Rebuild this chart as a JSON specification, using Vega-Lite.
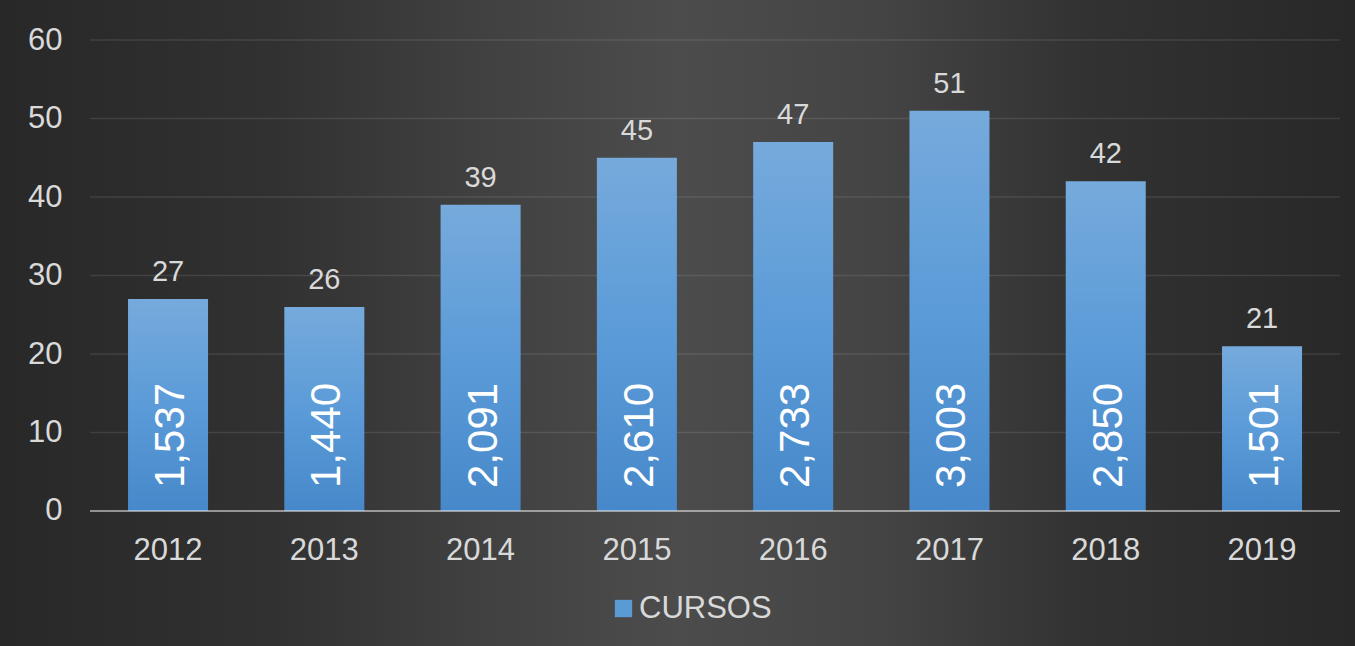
{
  "$schema": "https://vega.github.io/schema/vega-lite/v6.json",
  "width": 1355,
  "height": 646,
  "padding": 0,
  "autosize": {"type": "none"},
  "background": "#2a2a2a",
  "config": {
    "font": "Liberation Sans",
    "view": {
      "stroke": null,
      "fill": {
        "gradient": "linear", "x1": 0, "y1": 0, "x2": 1, "y2": 0,
        "stops": [
          {"offset": 0, "color": "#282828"},
          {"offset": 0.2, "color": "#313131"},
          {"offset": 0.35, "color": "#404040"},
          {"offset": 0.5, "color": "#4c4c4c"},
          {"offset": 0.65, "color": "#444444"},
          {"offset": 0.8, "color": "#323232"},
          {"offset": 1, "color": "#282828"}
        ]
      }
    }
  },
  "datasets": {
    "main": [
      {"year": "2012", "cursos": 27, "participantes": 1537},
      {"year": "2013", "cursos": 26, "participantes": 1440},
      {"year": "2014", "cursos": 39, "participantes": 2091},
      {"year": "2015", "cursos": 45, "participantes": 2610},
      {"year": "2016", "cursos": 47, "participantes": 2733},
      {"year": "2017", "cursos": 51, "participantes": 3003},
      {"year": "2018", "cursos": 42, "participantes": 2850},
      {"year": "2019", "cursos": 21, "participantes": 1501}
    ],
    "grid": [{"v": 0}, {"v": 10}, {"v": 20}, {"v": 30}, {"v": 40}, {"v": 50}, {"v": 60}]
  },
  "layer": [
    {
      "data": {"name": "grid"},
      "mark": {"type": "rule", "stroke": "#ffffff", "strokeOpacity": 0.1, "strokeWidth": 1.5},
      "encoding": {
        "y": {"field": "v", "type": "quantitative", "scale": {"domain": [-17.2, 65.1], "nice": false, "zero": false}},
        "x": {"datum": 0, "type": "quantitative", "scale": {"domain": [-0.072, 1.012], "nice": false, "zero": false}, "axis": null},
        "x2": {"datum": 1}
      }
    },
    {
      "data": {"name": "main"},
      "mark": {"type": "bar"},
      "encoding": {
        "x": {
          "field": "year", "type": "nominal", "sort": null,
          "scale": {"type": "band", "paddingInner": 0.488, "paddingOuter": 0.579, "align": 0.7074, "round": false},
          "axis": {
            "orient": "bottom", "offset": -135, "title": null, "domain": false, "ticks": false, "grid": false,
            "labelAngle": 0, "labelFontSize": 31, "labelColor": "#d9d9d9", "labelPadding": 24, "labelFont": "Liberation Sans"
          }
        },
        "y": {
          "field": "cursos", "type": "quantitative",
          "scale": {"domain": [-17.2, 65.1], "nice": false, "zero": false},
          "axis": {
            "orient": "left", "offset": -90, "title": null, "domain": false, "ticks": false, "grid": false,
            "values": [0, 10, 20, 30, 40, 50, 60], "labelFontSize": 31, "labelColor": "#d9d9d9", "labelPadding": 28, "labelFont": "Liberation Sans"
          }
        },
        "y2": {"datum": 0},
        "fill": {
          "datum": "CURSOS", "type": "nominal",
          "scale": {"range": ["#5b9bd5"]},
          "condition": {
            "test": "true",
            "value": {
              "gradient": "linear", "x1": 0, "y1": 0, "x2": 0, "y2": 1,
              "stops": [
                {"offset": 0, "color": "#76aadc"},
                {"offset": 0.5, "color": "#5b9bd8"},
                {"offset": 1, "color": "#4788ca"}
              ]
            }
          },
          "legend": {
            "orient": "none", "legendX": 608, "legendY": 593, "title": null, "padding": 0,
            "symbolType": "square", "symbolSize": 300, "symbolStrokeWidth": 0,
            "labelFontSize": 31, "labelColor": "#d9d9d9", "labelFont": "Liberation Sans", "labelOffset": 0,
            "encode": {
              "symbols": {
                "update": {
                  "fill": {"value": {
                    "gradient": "linear", "x1": 0, "y1": 0, "x2": 0, "y2": 1,
                    "stops": [
                      {"offset": 0, "color": "#76aadc"},
                      {"offset": 1, "color": "#4788ca"}
                    ]
                  }},
                  "strokeWidth": {"value": 0}
                }
              }
            }
          }
        }
      }
    },
    {
      "data": {"name": "grid"},
      "transform": [{"filter": "datum.v === 0"}],
      "mark": {"type": "rule", "stroke": "#ffffff", "strokeOpacity": 0.45, "strokeWidth": 2},
      "encoding": {
        "y": {"field": "v", "type": "quantitative", "scale": {"domain": [-17.2, 65.1], "nice": false, "zero": false}},
        "x": {"datum": 0, "type": "quantitative", "scale": {"domain": [-0.072, 1.012], "nice": false, "zero": false}, "axis": null},
        "x2": {"datum": 1}
      }
    },
    {
      "data": {"name": "main"},
      "mark": {"type": "text", "fontSize": 29, "fill": "#d9d9d9", "baseline": "alphabetic", "dy": -18, "font": "Liberation Sans"},
      "encoding": {
        "x": {"field": "year", "type": "nominal", "sort": null, "scale": {"type": "band", "paddingInner": 0.488, "paddingOuter": 0.579, "align": 0.7074, "round": false}, "axis": null},
        "y": {"field": "cursos", "type": "quantitative", "scale": {"domain": [-17.2, 65.1], "nice": false, "zero": false}},
        "text": {"field": "cursos", "type": "quantitative"}
      }
    },
    {
      "data": {"name": "main"},
      "mark": {"type": "text", "fontSize": 42, "fill": "#ffffff", "angle": 270, "align": "left", "baseline": "middle", "dx": 23, "dy": 3, "font": "Liberation Sans"},
      "encoding": {
        "x": {"field": "year", "type": "nominal", "sort": null, "scale": {"type": "band", "paddingInner": 0.488, "paddingOuter": 0.579, "align": 0.7074, "round": false}, "axis": null},
        "y": {"datum": 0, "type": "quantitative", "scale": {"domain": [-17.2, 65.1], "nice": false, "zero": false}},
        "text": {"field": "participantes", "type": "quantitative", "format": ","}
      }
    }
  ],
  "resolve": {"scale": {"x": "independent"}}
}
